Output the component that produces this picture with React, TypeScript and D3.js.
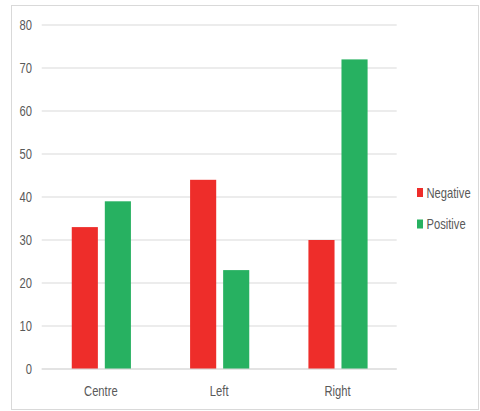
import React from "react";
import * as d3 from "d3";

// Chart data
const categories = ["Centre", "Left", "Right"];
const seriesNames = ["Negative", "Positive"];
const negativeValues = [33, 44, 30];
const positiveValues = [39, 23, 72];
const yTicks = [0, 10, 20, 30, 40, 50, 60, 70, 80];

const colors: Record<string, string> = {
  Negative: "#ee2d2a",
  Positive: "#27b161",
};

const W = 480;
const H = 411;
const FONT = "'Liberation Sans', Arial, sans-serif";
const TEXT_COLOR = "#595959";
const NARROW = 0.8;

// Horizontally condensed label
function NarrowText({
  x,
  y,
  anchor = "start",
  size,
  dy,
  children,
}: {
  x: number;
  y: number;
  anchor?: "start" | "middle" | "end";
  size: number;
  dy?: string;
  children: React.ReactNode;
}) {
  return (
    <g transform={`translate(${x},${y}) scale(${NARROW},1)`}>
      <text x={0} y={0} dy={dy} textAnchor={anchor} fontSize={size} fill={TEXT_COLOR}>
        {children}
      </text>
    </g>
  );
}

export default function App() {
  const plotLeft = 41.7;
  const plotRight = 396.7;
  const plotTop = 25;
  const plotBottom = 369;

  const x0 = d3.scaleBand<string>().domain(categories).range([plotLeft, plotRight]);
  const x1 = d3
    .scaleBand<string>()
    .domain(seriesNames)
    .range([x0.bandwidth() * 0.254, x0.bandwidth() * 0.754])
    .paddingInner(0.21);
  const y = d3.scaleLinear().domain([0, 80]).range([plotBottom, plotTop]);

  const rows = categories.map((c, i) => ({
    category: c,
    values: { Negative: negativeValues[i], Positive: positiveValues[i] } as Record<string, number>,
  }));

  return (
    <svg
      width={W}
      height={H}
      style={{ position: "absolute", left: 0, top: 0, background: "#fff" }}
      fontFamily={FONT}
    >
      {/* chart area frame */}
      <rect x={11.5} y={5.5} width={467} height={404} fill="#fff" stroke="#d9d9d9" strokeWidth={1} />

      {/* gridlines and y tick labels */}
      {yTicks.map((t) => (
        <g key={t}>
          <line x1={plotLeft} x2={plotRight} y1={y(t)} y2={y(t)} stroke="#d9d9d9" strokeWidth={1.2} />
          <NarrowText x={32} y={y(t)} dy="0.36em" anchor="end" size={14}>
            {t}
          </NarrowText>
        </g>
      ))}

      {/* bars */}
      {rows.map((r) => (
        <g key={r.category} transform={`translate(${x0(r.category)},0)`}>
          {seriesNames.map((s) => (
            <rect
              key={s}
              x={x1(s)}
              y={y(r.values[s])}
              width={x1.bandwidth()}
              height={y(0) - y(r.values[s])}
              fill={colors[s]}
            />
          ))}
        </g>
      ))}

      {/* baseline */}
      <line x1={plotLeft} x2={plotRight} y1={y(0)} y2={y(0)} stroke="#d9d9d9" strokeWidth={1.2} />

      {/* x category labels */}
      {categories.map((c) => (
        <NarrowText
          key={c}
          x={(x0(c) as number) + x0.bandwidth() / 2}
          y={395.5}
          anchor="middle"
          size={14}
        >
          {c}
        </NarrowText>
      ))}

      {/* legend */}
      {seriesNames.map((s, i) => (
        <g key={s} transform={`translate(417,${188 + i * 31.5})`}>
          <rect x={0} y={0} width={6} height={9} fill={colors[s]} />
          <NarrowText x={9.5} y={9.5} size={14}>
            {s}
          </NarrowText>
        </g>
      ))}
    </svg>
  );
}
